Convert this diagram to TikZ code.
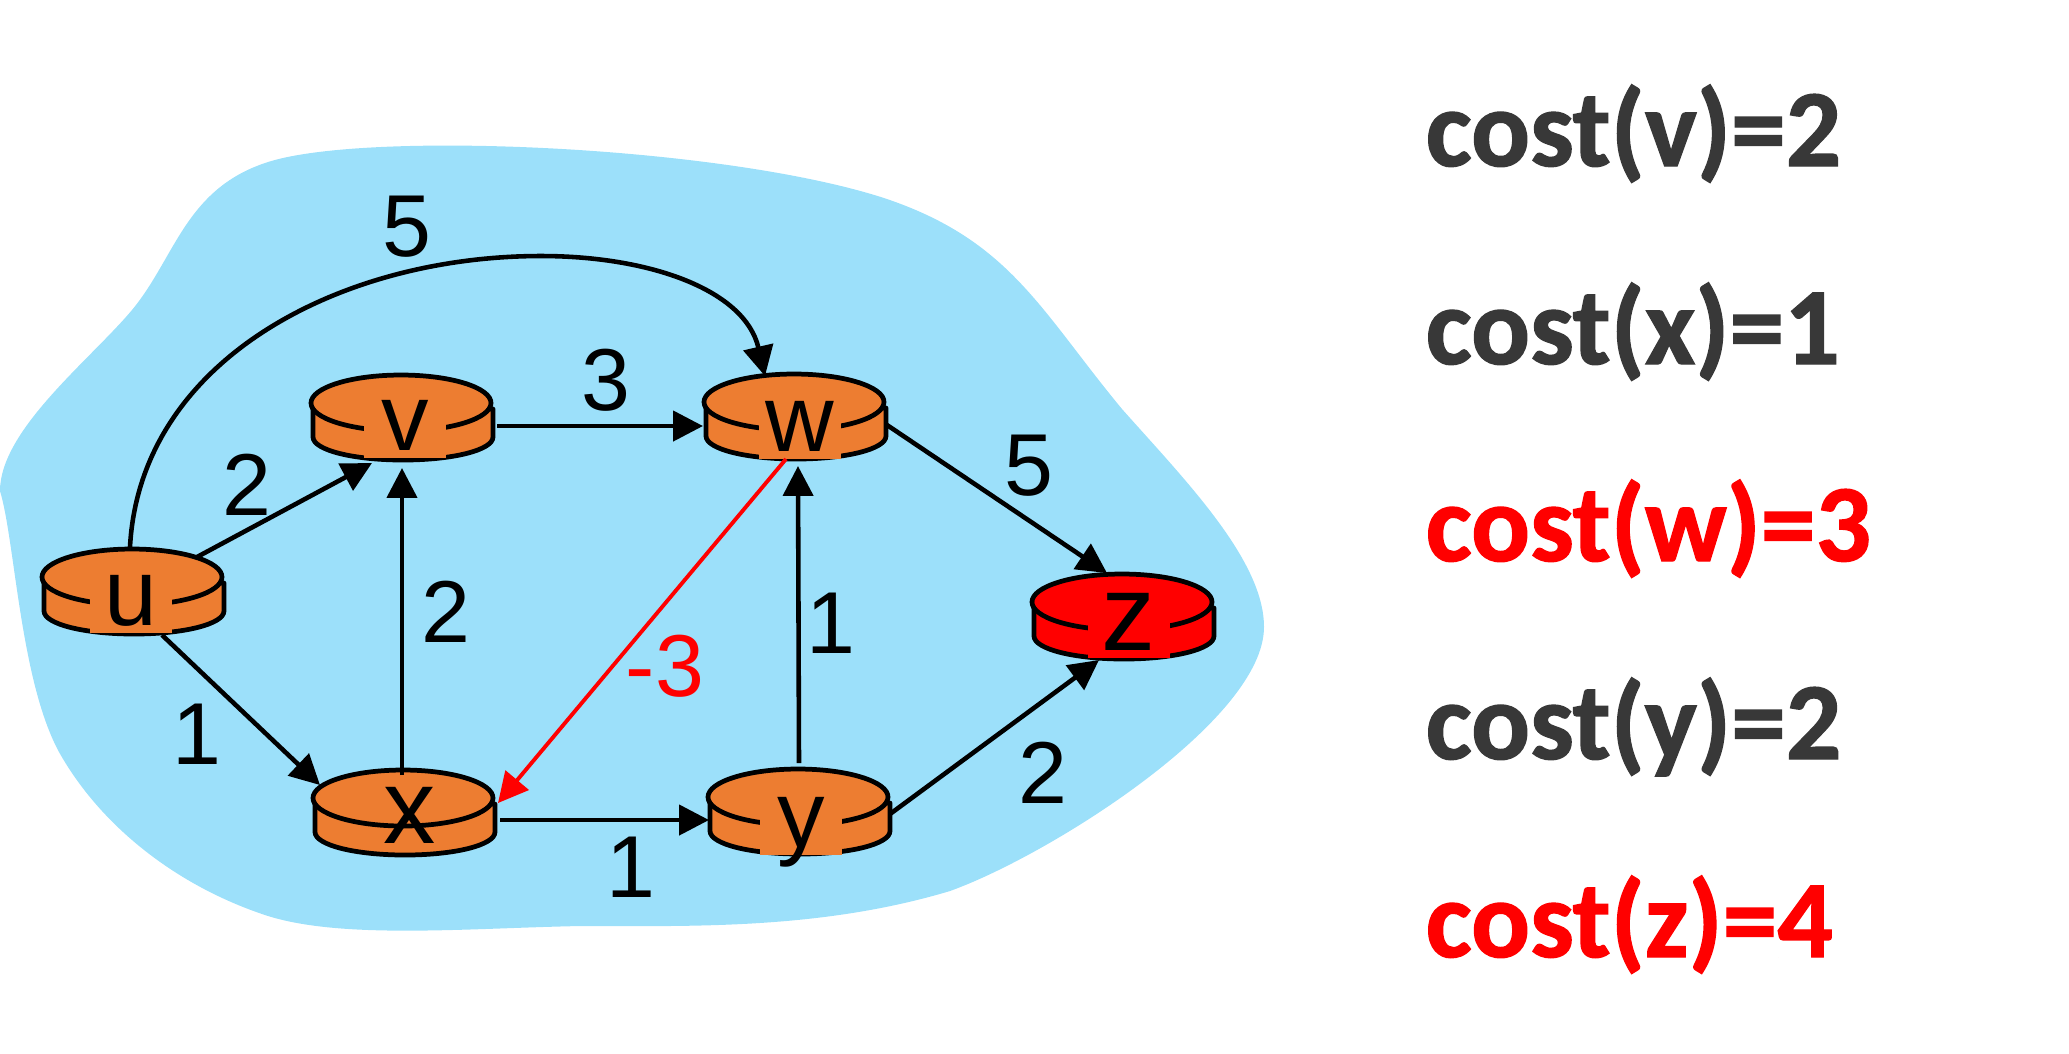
\documentclass[tikz,border=0pt]{standalone}
\usepackage{xcolor}
\usepackage{fontspec}
\usepackage{tikz}
\usetikzlibrary{arrows.meta,positioning}
\setmainfont{Liberation Sans}
\newfontfamily\costfont[BoldFeatures={FakeBold=1.2}]{Carlito}

\definecolor{cloudblue}{HTML}{9CE0FA}
\definecolor{routerorange}{HTML}{ED7D31}
\definecolor{costgray}{HTML}{383838}

\tikzset{
    link/.style={draw=black,line width=1.3pt,-{Triangle[length=8.5pt,width=8.5pt]}},
    redlink/.style={link,draw=red,line width=1.1pt,-{Triangle[length=8.5pt,width=8.5pt,fill=red]}},
    routerbody/.style={draw=black,line width=1.35pt,line join=round},
    routerbox/.style={minimum width=1.82cm,minimum height=0.90cm,inner sep=0pt},
    routertext/.style={anchor=base,inner sep=0pt,minimum width=0.82cm,text height=0.60cm,text depth=0.08cm,
        align=center,text=black,font=\fontsize{27}{30}\selectfont},
    weight/.style={inner sep=0pt,font=\fontsize{25}{30}\selectfont},
    costlabel/.style={anchor=base west,inner sep=0pt,font=\costfont\bfseries\fontsize{31.2}{36}\selectfont}
}

% name, x, y of the top disc, fill, x, y of the text, text options, text
\newcommand{\router}[8]{
    \path[routerbody,fill=#4] (#2-88,#3+6) -- (#2-88,#3+34) .. controls +(0,13) and +(-50,0) .. (#2+2,#3+57)
        .. controls +(50,0) and +(0,13) .. (#2+92,#3+34) -- (#2+92,#3+6) -- cycle;
    \path[routerbody,fill=#4] (#2,#3) ellipse [x radius=90,y radius=28];
    \node[routerbox] (#1) at (#2,#3+30) {};
    \node[routertext,#7] (#1 text) at (#5,#6) {#8};
}

\begin{document}
\begin{tikzpicture}[x=0.01cm,y=-0.01cm]
    \useasboundingbox (0,0) rectangle (2069,1053);

    \fill[cloudblue] (0,491) .. controls (0,430) and (90,360) .. (132,310)
        .. controls (175,258) and (185,190) .. (265,163)
        .. controls (360,130) and (720,145) .. (884,198)
        .. controls (1010,240) and (1040,310) .. (1122,409)
        .. controls (1185,480) and (1264,560) .. (1264,627)
        .. controls (1264,720) and (1050,855) .. (950,891)
        .. controls (820,930) and (690,926) .. (581,926)
        .. controls (470,928) and (340,940) .. (265,915)
        .. controls (175,885) and (100,825) .. (59,752)
        .. controls (20,680) and (15,540) .. (0,491) -- cycle;

    \router{u}{132}{577}{routerorange}{131}{625}{fill=routerorange}{u}
    \router{v}{401}{403}{routerorange}{405}{450}{fill=routerorange}{v}
    \router{w}{794}{402}{routerorange}{800}{451}{fill=routerorange}{w}
    \router{x}{403}{798}{routerorange}{410}{843}{}{\scalebox{1.1}[1.12]{x}}
    \router{y}{798}{797}{routerorange}{801}{847}{fill=routerorange}{y}
    \router{z}{1122}{602}{red}{1129}{650}{fill=red}{\scalebox{1.14}{z}}

    \draw[link] ([shift={(65,-50)}]u.center) -- ([shift={(-29,30)}]v.center);
    \draw[link] ([shift={(-2,-60)}]u.center) .. controls (140,360) and (340,256) .. (541,256)
        .. controls (650,256) and (745,290) .. ([shift={(-29,-56)}]w.center);
    \draw[link] ([shift={(30,28)}]u.center) -- ([shift={(-83,-43)}]x.center);
    \draw[link] ([shift={(-1,-53)}]x.center) -- ([shift={(1,35)}]v.center);
    \draw[link] ([shift={(96,-7)}]v.center) -- ([shift={(-91,-6)}]w.center);
    \draw[link] ([shift={(97,-8)}]x.center) -- ([shift={(-89,-7)}]y.center);
    \draw[link] ([shift={(1,-64)}]y.center) -- ([shift={(4,34)}]w.center);
    \draw[link] ([shift={(93,-7)}]w.center) -- ([shift={(-15,-59)}]z.center);
    \draw[link] ([shift={(92,-13)}]y.center) -- ([shift={(-23,28)}]z.center);
    \draw[redlink] ([shift={(-8,27)}]w.center) -- ([shift={(95,-25)}]x.center);

    \node[weight] (uw) at (407,227) {5};
    \node[weight] (uv) at (247,485) {2};
    \node[weight] (ux) at (197,734) {1};
    \node[weight] (xv) at (446,612) {2};
    \node[weight] (vw) at (606,380) {3};
    \node[weight] (xy) at (631,867) {1};
    \node[weight] (yw) at (831,623) {1};
    \node[weight] (wz) at (1029,466) {5};
    \node[weight] (yz) at (1043,773) {2};
    \node[weight,text=red] (wx) at (665,666) {-3};

    \foreach \nd/\val/\py/\col in {v/2/166/costgray,x/1/364/costgray,w/3/561/red,y/2/759/costgray,z/4/957/red} {
        \node[costlabel,text=\col] (cost\nd) at (1425,\py) {cost(\nd)=\val};
    }
\end{tikzpicture}
\end{document}
